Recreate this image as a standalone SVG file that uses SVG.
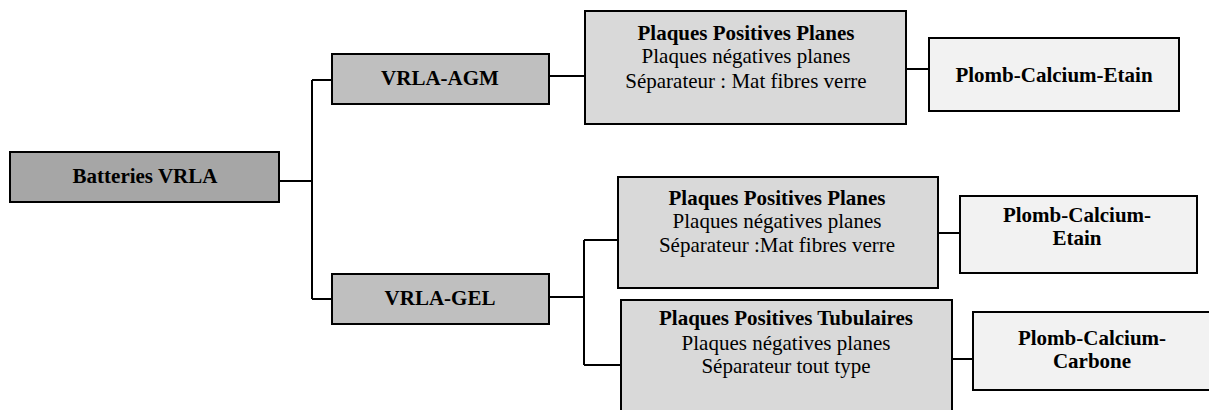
<svg xmlns="http://www.w3.org/2000/svg" width="1209" height="410" viewBox="0 0 1209 410">
<style>
rect{stroke:#000;stroke-width:2}
.l0{fill:#a6a6a6}.l1{fill:#bfbfbf}.l2{fill:#d9d9d9}.l3{fill:#f2f2f2}
text{font-family:"Liberation Serif","Times New Roman",serif;font-size:21px;fill:#000;text-anchor:middle}
.b{font-weight:bold}
#connectors path{fill:none;stroke:#000;stroke-width:2}
</style>
<rect width="1209" height="410" fill="#fff" style="stroke:none"/>
<g id="connectors">
<path d="M279 181H312M312 80V299M312 80H332M312 299H332"/>
<path d="M549 76H586M906 69H929"/>
<path d="M549 297H584M584 240V365M584 240H618M584 365H621"/>
<path d="M938 233H960M952 359H973"/>
</g>
<g id="batteries"><rect class="l0" x="10" y="152" width="269" height="50"/><text class="b" x="145" y="183">Batteries VRLA</text></g>
<g id="agm"><rect class="l1" x="332" y="54" width="217" height="50"/><text class="b" x="440" y="85">VRLA-AGM</text></g>
<g id="gel"><rect class="l1" x="332" y="274" width="217" height="50"/><text class="b" x="440" y="305">VRLA-GEL</text></g>
<g id="agm-plaques"><rect class="l2" x="585" y="11" width="321" height="113"/>
<text class="b" x="746" y="40">Plaques Positives Planes</text>
<text x="746" y="63">Plaques négatives planes</text>
<text x="746" y="88">Séparateur : Mat fibres verre</text></g>
<g id="agm-alliage"><rect class="l3" x="929" y="38" width="250" height="73"/><text class="b" x="1054" y="82">Plomb-Calcium-Etain</text></g>
<g id="gel-planes"><rect class="l2" x="618" y="177" width="320" height="111"/>
<text class="b" x="777" y="205">Plaques Positives Planes</text>
<text x="777" y="228">Plaques négatives planes</text>
<text x="777" y="252">Séparateur :Mat fibres verre</text></g>
<g id="gel-planes-alliage"><rect class="l3" x="960" y="196" width="237" height="77"/>
<text class="b" x="1077" y="222">Plomb-Calcium-</text>
<text class="b" x="1077" y="245">Etain</text></g>
<g id="gel-tubulaires"><rect class="l2" x="621" y="300" width="331" height="115"/>
<text class="b" x="786" y="325">Plaques Positives Tubulaires</text>
<text x="786" y="350">Plaques négatives planes</text>
<text x="786" y="373">Séparateur tout type</text></g>
<g id="gel-tubulaires-alliage"><rect class="l3" x="973" y="312" width="240" height="78"/>
<text class="b" x="1092" y="345">Plomb-Calcium-</text>
<text class="b" x="1092" y="368">Carbone</text></g>
</svg>
